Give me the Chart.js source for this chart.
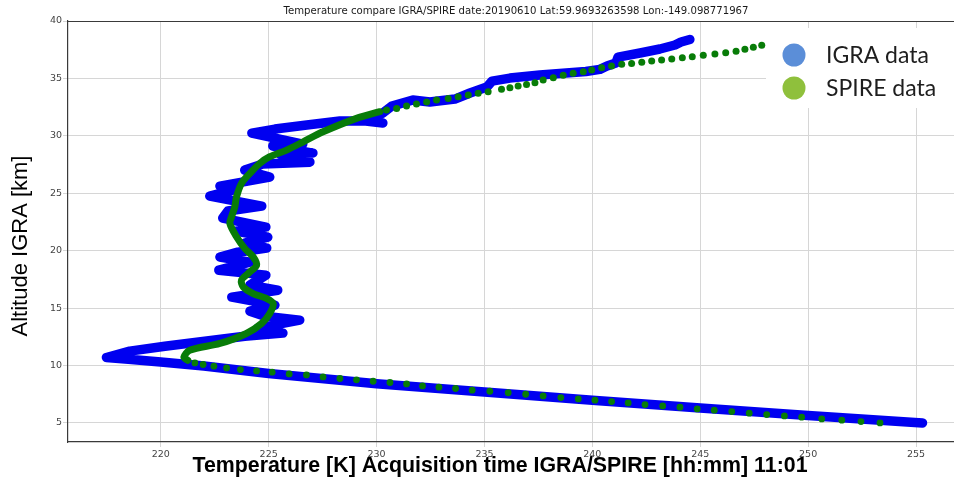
<!DOCTYPE html>
<html>
<head>
<meta charset="utf-8">
<script src="https://cdn.jsdelivr.net/npm/chart.js@4.4.1/dist/chart.umd.min.js"></script>
<style>
  html, body { margin: 0; padding: 0; background: #ffffff; }
  #wrap { width: 954px; height: 481px; }
</style>
</head>
<body>
<div id="wrap"><canvas id="profile" width="954" height="481"></canvas></div>
<script>
// IGRA radiosonde profile: temperature [K] and altitude [km], from the surface layer upward
const igraTemp = [255.3, 250, 245, 240, 235, 230, 225, 222, 220, 218.5, 217.48, 218.56, 220.19, 222.04, 223.89,
  225.66, 224.50, 226.44, 224.82, 224.13, 225.29, 223.29, 225.42, 224.13, 224.87, 222.69, 224.13, 222.74, 223.57,
  224.91, 223.89, 224.96, 223.48, 224.87, 222.87, 223.11, 224.68, 222.27, 223.52, 222.74, 225.05, 223.89, 224.73,
  226.91, 225.52, 227.05, 225.19, 226.58, 224.22, 225.29, 226.77, 228.30, 229.50, 230.29, 229.69, 230.29, 230.71,
  231.68, 232.47, 233.63, 234.33, 235.11, 235.35, 236.18, 237.57, 239.70, 240.35, 240.68, 241.09, 241.19, 242.21,
  243.13, 243.83, 244.11, 244.52];
const igraAlt = [5.0, 5.65, 6.3, 6.98, 7.7, 8.42, 9.3, 9.95, 10.3, 10.55, 10.70, 11.25, 11.68, 12.12, 12.55,
  12.82, 13.25, 13.95, 14.30, 14.73, 15.26, 15.95, 16.56, 17.00, 17.87, 18.30, 19.00, 19.44, 19.87,
  20.22, 20.66, 21.18, 21.70, 22.05, 22.84, 23.45, 23.88, 24.75, 25.36, 25.62, 26.41, 27.02, 27.54,
  27.71, 28.41, 28.50, 29.11, 29.28, 30.24, 30.59, 30.94, 31.29, 31.29, 31.11, 31.64, 31.98, 32.59,
  33.12, 32.94, 33.20, 33.73, 34.25, 34.77, 35.03, 35.30, 35.60, 35.79, 36.08, 36.34, 36.86, 37.21,
  37.56, 37.91, 38.17, 38.39];

// SPIRE retrieval below the tropopause (sparse samples)
const spireLowTemp = [253.33, 252.45, 251.56, 250.63, 249.70, 248.90, 248.08, 247.27, 246.46, 245.65, 244.86,
  244.06, 243.26, 242.44, 241.66, 240.89, 240.12, 239.35, 238.54, 237.72, 236.91, 236.10, 235.25, 234.43, 233.66,
  232.89, 232.13, 231.39, 230.62, 229.84, 229.07, 228.30, 227.52, 226.75, 225.95, 225.16, 224.44, 223.69, 223.05,
  222.46, 221.96, 221.58];
const spireLowAlt = [5.00, 5.12, 5.24, 5.35, 5.50, 5.61, 5.73, 5.85, 5.99, 6.11, 6.22,
  6.37, 6.48, 6.60, 6.74, 6.86, 6.98, 7.09, 7.21, 7.35, 7.50, 7.63, 7.76, 7.85, 8.00,
  8.11, 8.22, 8.40, 8.52, 8.63, 8.75, 8.87, 9.01, 9.18, 9.27, 9.42, 9.53, 9.65, 9.79,
  9.94, 10.09, 10.23];

// SPIRE retrieval through the lower stratosphere (densely sampled)
const spireMidTemp = [221.25, 221.07, 221.34, 222.74, 223.97, 224.67, 225.05, 225.21, 224.90, 224.28,
  223.82, 223.74, 224.05, 224.44, 224.28, 223.89, 223.51, 223.20, 223.28, 223.43,
  223.51, 223.74, 224.13, 224.59, 225.05, 225.83, 226.60, 227.52, 229.07, 230.15];
const spireMidAlt = [10.46, 10.72, 11.33, 11.92, 12.79, 13.66, 14.53, 15.40, 15.84, 16.27,
  16.85, 17.43, 18.02, 18.74, 19.46, 20.20, 21.21, 22.37, 22.95, 23.82,
  24.69, 25.86, 26.73, 27.60, 28.18, 28.76, 29.48, 30.35, 31.52, 32.10];

// SPIRE retrieval above ~32 km
const spireHighTemp = [230.46, 230.93, 231.39, 231.85, 232.32, 232.78, 233.32, 233.78, 234.25, 234.71,
  235.17, 235.79, 236.18, 236.56, 236.95, 237.34, 237.72, 238.19, 238.65, 239.11,
  239.58, 239.97, 240.43, 240.89, 241.36, 241.82, 242.29, 242.75, 243.21, 243.68,
  244.17, 244.63, 245.14, 245.68, 246.18, 246.66, 247.07, 247.46, 247.85];
const spireHighAlt = [32.25, 32.39, 32.59, 32.77, 32.94, 33.12, 33.26, 33.40, 33.55, 33.70,
  33.84, 34.05, 34.19, 34.34, 34.48, 34.62, 34.86, 35.06, 35.27, 35.44,
  35.58, 35.73, 35.93, 36.08, 36.23, 36.31, 36.40, 36.51, 36.60, 36.69,
  36.80, 36.89, 37.01, 37.12, 37.24, 37.36, 37.53, 37.71, 37.88];

// Axis ticks
const tempTicks = [220, 225, 230, 235, 240, 245, 250, 255];
const altTicks = [5, 10, 15, 20, 25, 30, 35, 40];

const chartTitle = 'Temperature compare IGRA/SPIRE date:20190610 Lat:59.9693263598 Lon:-149.098771967';
const xAxisTitle = 'Temperature [K] Acquisition time IGRA/SPIRE [hh:mm] 11:01';
const yAxisTitle = 'Altitude IGRA [km]';
const legendLabels = ['IGRA data', 'SPIRE data'];

const IGRA_BLUE = '#0000f0';
const SPIRE_GREEN = '#087c08';

const toPoints = (xs, ys) => xs.map((x, i) => ({ x, y: ys[i] }));

// Draws text centred on (cx, cy), squeezed or stretched horizontally to a given span
function spanText(ctx, text, cx, cy, width) {
  const natural = ctx.measureText(text).width;
  ctx.save();
  ctx.translate(cx, cy);
  ctx.scale(width / natural, 1);
  ctx.fillText(text, 0, 0);
  ctx.restore();
}

const decorations = {
  id: 'decorations',
  afterDraw(chart) {
    const { ctx, chartArea } = chart;
    ctx.save();

    // top spine
    ctx.strokeStyle = '#3a3a3a';
    ctx.lineWidth = 1.2;
    ctx.beginPath();
    ctx.moveTo(chartArea.left, chartArea.top + 0.5);
    ctx.lineTo(chartArea.right, chartArea.top + 0.5);
    ctx.stroke();

    ctx.textAlign = 'center';
    ctx.textBaseline = 'middle';

    // title
    ctx.fillStyle = '#1a1a1a';
    ctx.font = '10px "DejaVu Sans"';
    spanText(ctx, chartTitle, 516, 11, 465);

    // x-axis title
    ctx.fillStyle = '#000000';
    ctx.font = 'bold 22px "Liberation Sans"';
    spanText(ctx, xAxisTitle, 500, 466, 615);

    // y-axis title
    ctx.font = '22px "Liberation Sans"';
    ctx.save();
    ctx.translate(21, 246);
    ctx.rotate(-Math.PI / 2);
    ctx.fillText(yAxisTitle, 0, 0);
    ctx.restore();

    // legend panel
    ctx.fillStyle = '#ffffff';
    ctx.fillRect(766, 28, 188, 80);
    const swatches = ['#5b8ed8', '#8fc03c'];
    const rows = [55, 88];
    ctx.textAlign = 'left';
    ctx.font = '23px Lato';
    rows.forEach((y, i) => {
      ctx.fillStyle = swatches[i];
      ctx.beginPath();
      ctx.arc(794, y, 11.5, 0, Math.PI * 2);
      ctx.fill();
      ctx.fillStyle = '#1e1e1e';
      ctx.fillText(legendLabels[i], 826, y + 1);
    });

    ctx.restore();
  }
};

const gridStyle = { color: '#d6d6d6', lineWidth: 1, tickLength: 5, drawTicks: true };
const borderStyle = { display: true, color: '#3a3a3a', width: 1.2 };
const tickFont = { family: 'DejaVu Sans', size: 9.5 };

new Chart(document.getElementById('profile'), {
  type: 'scatter',
  data: {
    datasets: [
      {
        label: legendLabels[1],
        data: toPoints(spireMidTemp, spireMidAlt),
        showLine: true,
        borderColor: SPIRE_GREEN,
        borderWidth: 7,
        borderCapStyle: 'round',
        borderJoinStyle: 'round',
        tension: 0.3,
        pointRadius: 0,
        order: 1
      },
      {
        label: legendLabels[1],
        data: toPoints(spireLowTemp, spireLowAlt),
        backgroundColor: SPIRE_GREEN,
        borderWidth: 0,
        pointRadius: 3.4,
        order: 1
      },
      {
        label: legendLabels[1],
        data: toPoints(spireHighTemp, spireHighAlt),
        backgroundColor: SPIRE_GREEN,
        borderWidth: 0,
        pointRadius: 3.5,
        order: 1
      },
      {
        label: legendLabels[0],
        data: toPoints(igraTemp, igraAlt),
        showLine: true,
        borderColor: IGRA_BLUE,
        borderWidth: 9.5,
        borderCapStyle: 'round',
        borderJoinStyle: 'round',
        tension: 0,
        pointRadius: 0,
        order: 2
      }
    ]
  },
  options: {
    responsive: false,
    devicePixelRatio: 1,
    animation: false,
    layout: { autoPadding: false, padding: { top: 21, left: 0, right: 0, bottom: 0 } },
    plugins: {
      legend: { display: false },
      tooltip: { enabled: false },
      title: { display: false }
    },
    scales: {
      x: {
        type: 'linear',
        min: 215.7,
        max: 256.76,
        afterBuildTicks: (s) => { s.ticks = tempTicks.map((v) => ({ value: v })); },
        afterFit: (s) => { s.height = 39; },
        grid: gridStyle,
        border: borderStyle,
        ticks: { font: tickFont, color: '#444444', padding: 2, maxRotation: 0 }
      },
      y: {
        type: 'linear',
        min: 3.34,
        max: 40,
        afterBuildTicks: (s) => { s.ticks = altTicks.map((v) => ({ value: v })); },
        afterFit: (s) => { s.width = 68; },
        grid: gridStyle,
        border: borderStyle,
        ticks: { font: tickFont, color: '#444444', padding: 1 }
      }
    }
  },
  plugins: [decorations]
});
</script>
</body>
</html>
